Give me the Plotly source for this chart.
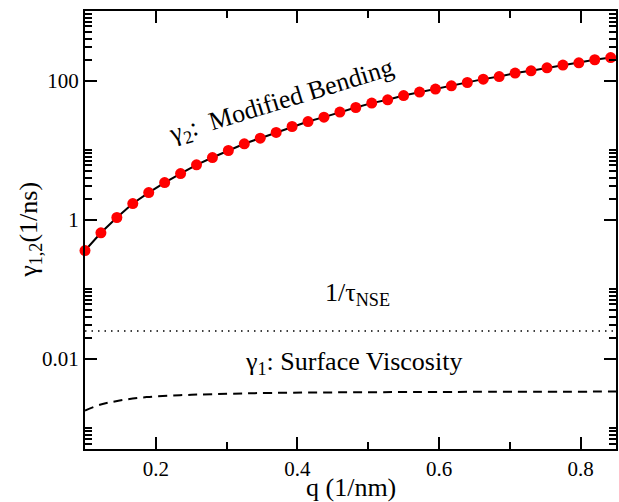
import plotly.graph_objects as go

# ---- data ----
q_bend = [0.1, 0.1225, 0.145, 0.1675, 0.19, 0.2125, 0.235, 0.2575, 0.28, 0.3025,
          0.325, 0.3475, 0.37, 0.3925, 0.415, 0.4375, 0.46, 0.4825, 0.505, 0.5275,
          0.55, 0.5725, 0.595, 0.6175, 0.64, 0.6625, 0.685, 0.7075, 0.73, 0.7525,
          0.775, 0.7975, 0.82, 0.8425]
gamma2 = [0.358, 0.644, 1.07, 1.70, 2.44, 3.40, 4.59, 6.12, 7.80, 9.84,
          12.3, 14.8, 17.9, 21.8, 25.7, 29.7, 35.1, 40.9, 47.3, 52.8,
          60.8, 68.1, 75.2, 83.9, 93.6, 104.7, 114, 128, 138, 152,
          167, 180, 199, 214]

q_visc = [0.1, 0.121, 0.149, 0.187, 0.234, 0.28, 0.34, 0.45, 0.6, 0.85]
gamma1 = [0.00179, 0.00216, 0.00249, 0.00279, 0.00297, 0.00307, 0.00318,
          0.00326, 0.00331, 0.00335]

q_nse = [0.1, 0.85]
inv_tau_nse = [0.025, 0.025]

x_major = [0.2, 0.4, 0.6, 0.8]
x_major_labels = ["0.2", "0.4", "0.6", "0.8"]
x_minor = [0.3, 0.5, 0.7]
y_major = [0.01, 1, 100]
y_major_labels = ["0.01", "1", "100"]
y_minor = [0.0006, 0.0007, 0.0008, 0.0009, 0.001,
           0.02, 0.03, 0.04, 0.05, 0.06, 0.07, 0.08, 0.09, 0.1,
           2, 3, 4, 5, 6, 7, 8, 9, 10,
           200, 300, 400, 500, 600, 700, 800, 900, 1000]

FONT = "Liberation Serif, Times New Roman, serif"

fig = go.Figure()
fig.add_trace(go.Scatter(x=q_nse, y=inv_tau_nse, mode="lines",
                         line=dict(color="black", width=1.5, dash="1.5px,5px"),
                         showlegend=False, hoverinfo="skip"))
fig.add_trace(go.Scatter(x=q_visc, y=gamma1, mode="lines",
                         line=dict(color="black", width=2, dash="9px,6px", shape="spline"),
                         showlegend=False, hoverinfo="skip"))
fig.add_trace(go.Scatter(x=q_bend, y=gamma2, mode="lines+markers",
                         line=dict(color="black", width=2),
                         marker=dict(color="#ff0000", size=11),
                         showlegend=False, cliponaxis=False, hoverinfo="skip"))

axis_common = dict(showline=True, linecolor="black", linewidth=2, mirror="allticks",
                   ticks="inside", ticklen=12, tickwidth=1.5, tickcolor="black",
                   showgrid=False, zeroline=False, automargin=False,
                   tickfont=dict(family=FONT, size=21, color="black"))

fig.update_xaxes(range=[0.1, 0.85], tickmode="array", tickvals=x_major,
                 ticktext=x_major_labels,
                 minor=dict(tickmode="array", tickvals=x_minor, ticks="inside",
                            ticklen=7, tickwidth=1.5, tickcolor="black"),
                 **axis_common)
fig.update_yaxes(type="log", range=[-3.301, 3.0], tickmode="array", tickvals=y_major,
                 ticktext=y_major_labels,
                 minor=dict(tickmode="array", tickvals=y_minor, ticks="inside",
                            ticklen=7, tickwidth=1.5, tickcolor="black"),
                 **axis_common)

# axis titles
fig.add_annotation(x=0.5, y=-0.089, xref="paper", yref="paper", text="q (1/nm)",
                   showarrow=False, xanchor="center", yanchor="middle",
                   font=dict(family=FONT, size=26, color="black"))
fig.add_annotation(x=-0.104, y=0.5, xref="paper", yref="paper", text="γ<sub>1,2</sub>(1/ns)",
                   textangle=-90, showarrow=False, xanchor="center", yanchor="middle",
                   font=dict(family=FONT, size=26, color="black"))

# curve labels
fig.add_annotation(x=0.377, y=1.69, xref="x", yref="y", text="γ<sub>2</sub>:&nbsp; Modified Bending",
                   textangle=-17, showarrow=False,
                   font=dict(family=FONT, size=26, color="black"))
fig.add_annotation(x=0.4845, y=-1.07, xref="x", yref="y", text="1/τ<sub>NSE</sub>",
                   showarrow=False, font=dict(family=FONT, size=26, color="black"))
fig.add_annotation(x=0.4787, y=-2.06, xref="x", yref="y", text="γ<sub>1</sub>: Surface Viscosity",
                   showarrow=False, font=dict(family=FONT, size=26, color="black"))

fig.update_layout(width=619, height=502, margin=dict(l=85, r=3, t=11, b=53),
                  paper_bgcolor="white", plot_bgcolor="white", hovermode=False,
                  font=dict(family=FONT, color="black"))

fig.write_html("out.html", config={"displayModeBar": False},
               post_script="document.body.style.margin='0';document.body.style.overflow='hidden';")
